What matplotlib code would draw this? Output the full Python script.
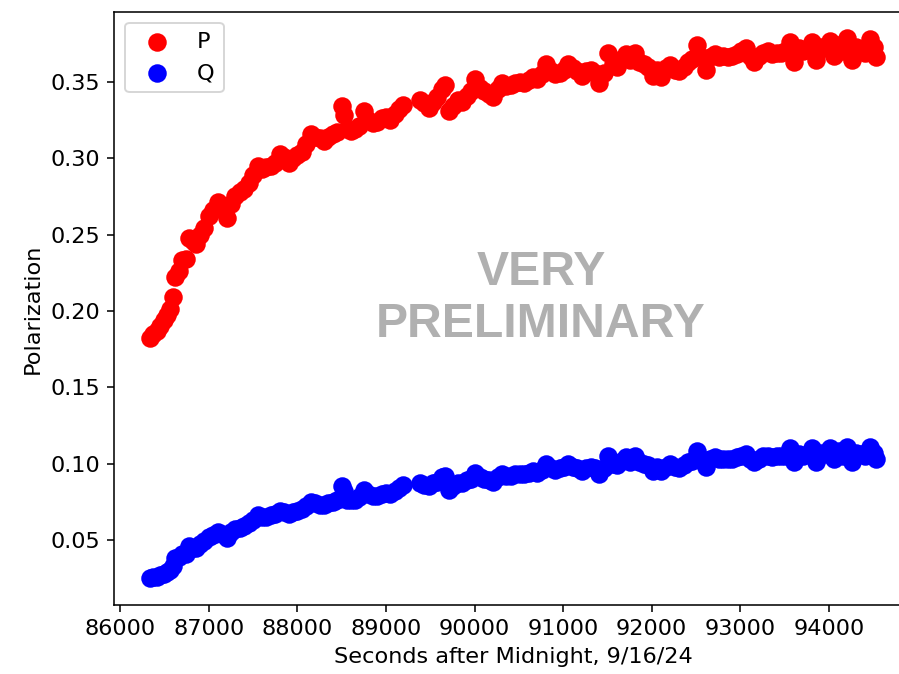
import matplotlib
matplotlib.use("Agg")
import matplotlib.pyplot as plt

# sample times (seconds after midnight), before and after the short gap
t_early = [86330, 86370, 86410, 86450, 86490, 86530, 86560, 86590, 86620, 86660,
           86700, 86740, 86780, 86820, 86860, 86900, 86950, 87000, 87050, 87100,
           87150, 87200, 87250, 87300, 87350, 87400, 87450, 87500, 87550, 87600,
           87650, 87700, 87750, 87800, 87850, 87900, 87950, 88000, 88050, 88100,
           88150, 88200, 88250, 88300, 88350, 88400, 88450, 88500, 88530, 88560,
           88600, 88650, 88700, 88750, 88800, 88850, 88900, 88950, 89000, 89050,
           89100, 89150, 89190]
p_early = [0.182, 0.185, 0.187, 0.190, 0.194, 0.197, 0.201, 0.209, 0.222, 0.226,
           0.233, 0.234, 0.248, 0.246, 0.244, 0.250, 0.254, 0.262, 0.266, 0.271,
           0.268, 0.261, 0.270, 0.275, 0.278, 0.280, 0.284, 0.289, 0.295, 0.293,
           0.294, 0.295, 0.297, 0.303, 0.301, 0.297, 0.300, 0.302, 0.304, 0.309,
           0.316, 0.314, 0.313, 0.311, 0.314, 0.316, 0.317, 0.334, 0.328, 0.319,
           0.318, 0.319, 0.321, 0.331, 0.325, 0.323, 0.324, 0.326, 0.327, 0.325,
           0.329, 0.332, 0.335]
q_early = [0.025, 0.026, 0.026, 0.027, 0.028, 0.029, 0.030, 0.033, 0.038, 0.039,
           0.041, 0.041, 0.046, 0.045, 0.045, 0.047, 0.049, 0.052, 0.053, 0.055,
           0.054, 0.051, 0.055, 0.057, 0.058, 0.059, 0.061, 0.063, 0.066, 0.065,
           0.065, 0.066, 0.067, 0.069, 0.068, 0.067, 0.068, 0.069, 0.070, 0.072,
           0.075, 0.074, 0.073, 0.073, 0.074, 0.075, 0.076, 0.085, 0.082, 0.076,
           0.076, 0.076, 0.078, 0.083, 0.080, 0.079, 0.079, 0.080, 0.081, 0.080,
           0.082, 0.084, 0.086]

t_late = [89380, 89430, 89480, 89530, 89580, 89630, 89670, 89710, 89760, 89810,
          89860, 89910, 89960, 90010, 90060, 90110, 90160, 90210, 90260, 90310,
          90360, 90410, 90460, 90510, 90560, 90610, 90660, 90710, 90760, 90810,
          90860, 90910, 90960, 91010, 91060, 91110, 91160, 91210, 91260, 91310,
          91360, 91410, 91460, 91510, 91560, 91610, 91660, 91710, 91760, 91810,
          91860, 91910, 91960, 92010, 92060, 92110, 92160, 92210, 92260, 92310,
          92360, 92410, 92460, 92510, 92560, 92610, 92660, 92710, 92760, 92810,
          92860, 92910, 92960, 93010, 93060, 93110, 93160, 93210, 93260, 93310,
          93360, 93410, 93460, 93510, 93560, 93610, 93660, 93710, 93760, 93810,
          93860, 93910, 93960, 94010, 94060, 94110, 94160, 94210, 94260, 94310,
          94360, 94410, 94460, 94510, 94530]
p_late = [0.338, 0.336, 0.333, 0.337, 0.340, 0.345, 0.348, 0.331, 0.334, 0.338,
          0.337, 0.341, 0.344, 0.352, 0.346, 0.344, 0.342, 0.340, 0.345, 0.349,
          0.347, 0.348, 0.349, 0.350, 0.349, 0.351, 0.353, 0.352, 0.355, 0.362,
          0.357, 0.355, 0.356, 0.358, 0.362, 0.359, 0.357, 0.354, 0.357, 0.358,
          0.356, 0.349, 0.356, 0.369, 0.362, 0.360, 0.365, 0.368, 0.364, 0.369,
          0.363, 0.362, 0.360, 0.354, 0.358, 0.353, 0.359, 0.361, 0.358, 0.357,
          0.360, 0.363, 0.365, 0.374, 0.366, 0.358, 0.366, 0.368, 0.366, 0.367,
          0.366, 0.367, 0.368, 0.370, 0.372, 0.367, 0.363, 0.367, 0.369, 0.370,
          0.368, 0.369, 0.369, 0.370, 0.376, 0.363, 0.372, 0.370, 0.371, 0.376,
          0.364, 0.373, 0.372, 0.377, 0.367, 0.374, 0.370, 0.379, 0.364, 0.373,
          0.371, 0.369, 0.378, 0.373, 0.366]
q_late = [0.087, 0.086, 0.085, 0.087, 0.088, 0.091, 0.092, 0.083, 0.085, 0.087,
          0.087, 0.089, 0.090, 0.094, 0.091, 0.090, 0.089, 0.088, 0.091, 0.093,
          0.092, 0.092, 0.093, 0.093, 0.093, 0.094, 0.095, 0.094, 0.096, 0.100,
          0.097, 0.096, 0.097, 0.098, 0.100, 0.098, 0.097, 0.095, 0.097, 0.098,
          0.097, 0.093, 0.097, 0.105, 0.100, 0.099, 0.102, 0.104, 0.101, 0.105,
          0.101, 0.100, 0.099, 0.095, 0.098, 0.095, 0.098, 0.100, 0.098, 0.097,
          0.099, 0.101, 0.102, 0.108, 0.103, 0.098, 0.103, 0.104, 0.103, 0.103,
          0.103, 0.103, 0.104, 0.105, 0.106, 0.103, 0.101, 0.103, 0.105, 0.105,
          0.104, 0.105, 0.105, 0.105, 0.110, 0.101, 0.106, 0.105, 0.106, 0.110,
          0.101, 0.107, 0.106, 0.110, 0.103, 0.108, 0.105, 0.111, 0.101, 0.107,
          0.106, 0.105, 0.111, 0.107, 0.103]

t = t_early + t_late
p = p_early + p_late
q = q_early + q_late

plt.rcParams['font.size'] = 11.5

fig = plt.figure(figsize=(6.4, 4.8), dpi=899 / 6.4)
# axes run a little past the right edge, as in the (cropped) original
ax = fig.add_axes([0.1268, 0.1024, 0.8888, 0.8798])

ax.scatter(t, p, s=72, color='red', label='P')
ax.scatter(t, q, s=72, color='blue', label='Q')

ax.set_xlim(85929, 94950)
ax.set_ylim(0.0074, 0.3959)
ax.set_xticks([86000, 87000, 88000, 89000, 90000, 91000, 92000, 93000, 94000])
ax.set_yticks([0.05, 0.10, 0.15, 0.20, 0.25, 0.30, 0.35])

ax.set_xlabel('Seconds after Midnight, 9/16/24')
ax.set_ylabel('Polarization')
ax.legend(loc='upper left')

ax.text(90750, 0.208, 'VERY\nPRELIMINARY', fontsize=24.7, fontweight='bold',
        color='#b0b0b0', ha='center', va='center', multialignment='center',
        family=['Liberation Sans', 'DejaVu Sans'])

fig.savefig('out.png', dpi=899 / 6.4)
